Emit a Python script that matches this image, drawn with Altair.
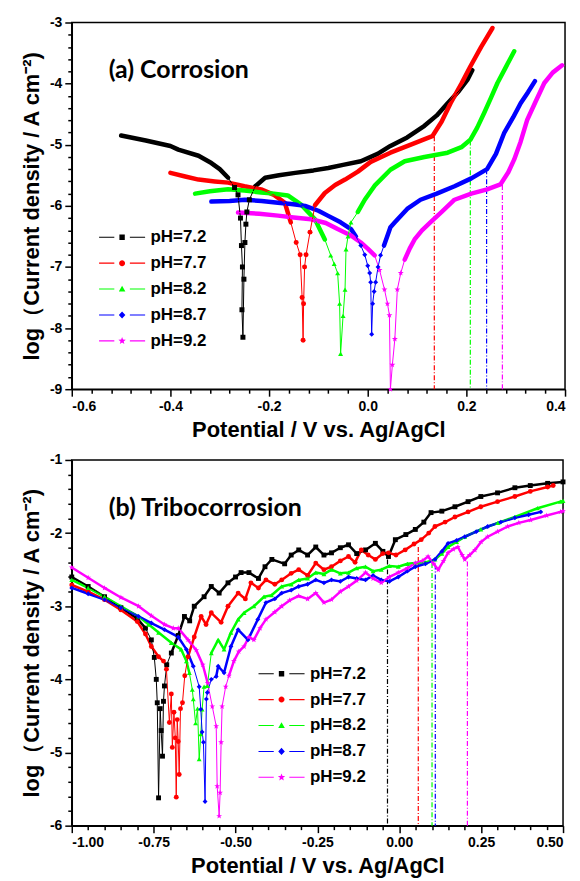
import math
import altair as alt
import pandas as pd

series = ["pH=7.2", "pH=7.7", "pH=8.2", "pH=8.7", "pH=9.2"]
colors = ["#000000", "#ff0000", "#00ff00", "#0000ff", "#ff00ff"]

# ---------------- (a) Corrosion : (potential V, log i) ----------------
top_72 = [(-0.50, -4.85), (-0.45, -4.93), (-0.40, -5.02), (-0.384, -5.08), (-0.343, -5.18), (-0.317, -5.30),
          (-0.30, -5.40), (-0.283, -5.54), (-0.27, -5.70), (-0.263, -5.82), (-0.258, -6.20), (-0.256, -6.65),
          (-0.254, -7.00), (-0.255, -7.70), (-0.253, -8.15), (-0.251, -7.20), (-0.249, -6.60), (-0.247, -6.30),
          (-0.245, -6.10), (-0.240, -5.90), (-0.228, -5.68), (-0.208, -5.54), (-0.18, -5.50), (-0.147, -5.46),
          (-0.11, -5.42), (-0.08, -5.38), (-0.05, -5.33), (-0.014, -5.27), (0.02, -5.15), (0.046, -5.02),
          (0.08, -4.88), (0.115, -4.69), (0.14, -4.52), (0.162, -4.32), (0.185, -4.12), (0.202, -3.94),
          (0.212, -3.78)]
top_77 = [(-0.40, -5.46), (-0.37, -5.52), (-0.343, -5.57), (-0.31, -5.60), (-0.283, -5.62), (-0.25, -5.68),
          (-0.216, -5.73), (-0.19, -5.82), (-0.168, -5.95), (-0.156, -6.27), (-0.145, -6.60), (-0.137, -6.80),
          (-0.133, -7.50), (-0.131, -8.20), (-0.130, -7.60), (-0.128, -7.00), (-0.125, -6.80), (-0.117, -6.43),
          (-0.107, -5.99), (-0.087, -5.79), (-0.066, -5.66), (-0.046, -5.57), (-0.02, -5.44), (0.006, -5.28),
          (0.046, -5.13), (0.09, -4.99), (0.131, -4.86), (0.15, -4.62), (0.168, -4.32), (0.19, -4.00),
          (0.208, -3.72), (0.23, -3.40), (0.253, -3.09)]
top_82 = [(-0.35, -5.80), (-0.32, -5.76), (-0.283, -5.73), (-0.25, -5.75), (-0.216, -5.78), (-0.19, -5.80),
          (-0.162, -5.83), (-0.135, -5.98), (-0.107, -6.22), (-0.087, -6.55), (-0.075, -6.81), (-0.068, -6.95),
          (-0.061, -7.10), (-0.057, -7.60), (-0.055, -8.42), (-0.050, -7.80), (-0.046, -7.37), (-0.044, -6.71),
          (-0.040, -6.50), (-0.034, -6.27), (-0.020, -6.10), (-0.006, -5.90), (0.014, -5.67), (0.046, -5.41),
          (0.075, -5.27), (0.115, -5.20), (0.162, -5.13), (0.19, -5.04), (0.208, -4.92), (0.222, -4.72),
          (0.236, -4.48), (0.25, -4.23), (0.263, -3.99), (0.28, -3.73), (0.297, -3.47)]
top_87 = [(-0.317, -5.93), (-0.28, -5.92), (-0.249, -5.90), (-0.215, -5.92), (-0.182, -5.95), (-0.155, -5.97),
          (-0.127, -6.00), (-0.10, -6.08), (-0.081, -6.16), (-0.055, -6.27), (-0.034, -6.38), (-0.024, -6.50),
          (-0.014, -6.65), (-0.006, -6.80), (0.000, -6.98), (0.004, -7.10), (0.006, -7.25), (0.008, -8.10),
          (0.010, -7.60), (0.013, -7.40), (0.016, -7.25), (0.021, -7.00), (0.026, -6.81), (0.033, -6.65),
          (0.040, -6.49), (0.046, -6.35), (0.055, -6.27), (0.08, -6.05), (0.107, -5.90), (0.14, -5.80),
          (0.176, -5.68), (0.21, -5.55), (0.242, -5.40), (0.26, -5.15), (0.277, -4.80), (0.295, -4.55),
          (0.31, -4.32), (0.325, -4.14), (0.339, -3.96)]
top_92 = [(-0.263, -6.11), (-0.22, -6.13), (-0.182, -6.16), (-0.15, -6.19), (-0.115, -6.22), (-0.085, -6.28),
          (-0.061, -6.38), (-0.035, -6.48), (-0.014, -6.60), (0.000, -6.70), (0.014, -6.81), (0.024, -7.05),
          (0.034, -7.37), (0.040, -7.60), (0.044, -7.79), (0.046, -9.00), (0.050, -8.60), (0.055, -8.18),
          (0.060, -7.37), (0.067, -7.10), (0.075, -6.88), (0.085, -6.70), (0.095, -6.55), (0.11, -6.40),
          (0.127, -6.27), (0.15, -6.10), (0.176, -5.90), (0.21, -5.80), (0.242, -5.73), (0.269, -5.65),
          (0.285, -5.45), (0.297, -5.24), (0.31, -4.95), (0.323, -4.60), (0.34, -4.30), (0.358, -3.99),
          (0.375, -3.82), (0.394, -3.70)]
top_pass_series = ["pH=7.7", "pH=8.2", "pH=8.7", "pH=9.2"]
top_pass_E = [0.135, 0.208, 0.241, 0.273]
top_pass_L = [-4.86, -4.93, -5.40, -5.66]

# ---------------- (b) Tribocorrosion ----------------
bot_72 = [(-1.00, -2.60), (-0.95, -2.73), (-0.90, -2.87), (-0.85, -3.02), (-0.80, -3.17), (-0.775, -3.30),
          (-0.757, -3.46), (-0.748, -3.70), (-0.742, -4.00), (-0.739, -4.32), (-0.735, -5.62), (-0.730, -4.40),
          (-0.727, -4.70), (-0.723, -5.05), (-0.720, -4.30), (-0.717, -4.09), (-0.710, -3.80), (-0.696, -3.64),
          (-0.675, -3.40), (-0.656, -3.14), (-0.640, -3.20), (-0.626, -3.00), (-0.596, -2.87), (-0.574, -2.73),
          (-0.550, -2.82), (-0.523, -2.68), (-0.500, -2.60), (-0.483, -2.54), (-0.459, -2.54), (-0.430, -2.62),
          (-0.410, -2.46), (-0.389, -2.36), (-0.350, -2.42), (-0.330, -2.30), (-0.307, -2.23), (-0.280, -2.30),
          (-0.255, -2.19), (-0.230, -2.30), (-0.207, -2.27), (-0.180, -2.20), (-0.155, -2.16), (-0.130, -2.28),
          (-0.103, -2.23), (-0.073, -2.14), (-0.050, -2.25), (-0.033, -2.32), (-0.012, -2.09), (0.020, -2.02),
          (0.049, -1.95), (0.075, -1.85), (0.097, -1.72), (0.130, -1.70), (0.170, -1.64), (0.210, -1.57),
          (0.249, -1.50), (0.300, -1.45), (0.353, -1.38), (0.400, -1.35), (0.453, -1.32), (0.500, -1.30)]
bot_77 = [(-1.00, -2.71), (-0.95, -2.80), (-0.90, -2.91), (-0.85, -3.05), (-0.80, -3.21), (-0.775, -3.38),
          (-0.757, -3.55), (-0.735, -3.69), (-0.720, -3.75), (-0.711, -3.86), (-0.702, -4.59), (-0.696, -4.20),
          (-0.693, -4.93), (-0.688, -4.45), (-0.684, -4.80), (-0.681, -5.61), (-0.678, -4.55), (-0.675, -4.85),
          (-0.672, -5.30), (-0.668, -4.40), (-0.662, -4.32), (-0.655, -3.95), (-0.645, -3.69), (-0.626, -3.42),
          (-0.605, -3.14), (-0.590, -3.25), (-0.574, -3.09), (-0.544, -3.22), (-0.523, -3.00), (-0.492, -2.82),
          (-0.470, -2.90), (-0.453, -2.68), (-0.430, -2.75), (-0.407, -2.64), (-0.380, -2.70), (-0.359, -2.64),
          (-0.330, -2.55), (-0.307, -2.50), (-0.280, -2.58), (-0.255, -2.41), (-0.230, -2.50), (-0.207, -2.46),
          (-0.180, -2.38), (-0.155, -2.32), (-0.135, -2.40), (-0.116, -2.23), (-0.095, -2.30), (-0.073, -2.36),
          (-0.050, -2.28), (-0.033, -2.27), (-0.010, -2.30), (0.018, -2.23), (0.045, -2.15), (0.067, -2.09),
          (0.090, -2.00), (0.109, -1.91), (0.140, -1.85), (0.170, -1.78), (0.210, -1.71), (0.249, -1.64),
          (0.300, -1.57), (0.353, -1.50), (0.400, -1.43), (0.453, -1.37), (0.470, -1.35)]
bot_82 = [(-1.00, -2.64), (-0.95, -2.75), (-0.90, -2.87), (-0.85, -3.00), (-0.796, -3.14), (-0.765, -3.25),
          (-0.735, -3.36), (-0.696, -3.50), (-0.666, -3.59), (-0.650, -3.75), (-0.641, -3.91), (-0.632, -4.14),
          (-0.629, -4.27), (-0.622, -4.60), (-0.616, -4.40), (-0.611, -5.09), (-0.606, -4.75), (-0.602, -4.41),
          (-0.596, -4.10), (-0.586, -4.09), (-0.574, -3.64), (-0.553, -3.46), (-0.535, -3.59), (-0.514, -3.36),
          (-0.492, -3.18), (-0.474, -3.09), (-0.444, -3.00), (-0.413, -2.87), (-0.390, -2.85), (-0.359, -2.73),
          (-0.330, -2.70), (-0.307, -2.64), (-0.280, -2.62), (-0.255, -2.54), (-0.230, -2.56), (-0.207, -2.50),
          (-0.180, -2.55), (-0.155, -2.54), (-0.130, -2.48), (-0.103, -2.46), (-0.080, -2.52), (-0.055, -2.50),
          (-0.030, -2.45), (-0.003, -2.46), (0.025, -2.42), (0.049, -2.41), (0.080, -2.40), (0.109, -2.36),
          (0.130, -2.28), (0.149, -2.19), (0.175, -2.12), (0.200, -2.05), (0.249, -1.95), (0.301, -1.86),
          (0.353, -1.78), (0.422, -1.66), (0.492, -1.57), (0.500, -1.56)]
bot_87 = [(-1.00, -2.75), (-0.95, -2.83), (-0.90, -2.91), (-0.85, -3.02), (-0.796, -3.14), (-0.757, -3.23),
          (-0.717, -3.32), (-0.675, -3.42), (-0.650, -3.59), (-0.629, -3.82), (-0.611, -4.10), (-0.606, -4.41),
          (-0.602, -4.72), (-0.598, -4.86), (-0.593, -5.67), (-0.589, -4.27), (-0.586, -4.18), (-0.574, -4.00),
          (-0.559, -3.96), (-0.553, -3.82), (-0.535, -3.91), (-0.514, -3.55), (-0.492, -3.32), (-0.462, -3.46),
          (-0.432, -3.18), (-0.407, -2.95), (-0.380, -2.90), (-0.359, -2.82), (-0.330, -2.78), (-0.307, -2.73),
          (-0.280, -2.70), (-0.255, -2.64), (-0.230, -2.68), (-0.207, -2.64), (-0.180, -2.66), (-0.155, -2.60),
          (-0.130, -2.62), (-0.103, -2.64), (-0.080, -2.58), (-0.055, -2.64), (-0.030, -2.66), (-0.003, -2.60),
          (0.025, -2.52), (0.049, -2.46), (0.080, -2.42), (0.109, -2.36), (0.130, -2.25), (0.149, -2.14),
          (0.175, -2.10), (0.200, -2.05), (0.235, -1.98), (0.270, -1.91), (0.310, -1.85), (0.353, -1.79),
          (0.395, -1.75), (0.432, -1.71)]
bot_92 = [(-1.00, -2.47), (-0.95, -2.61), (-0.90, -2.75), (-0.85, -2.88), (-0.796, -3.00), (-0.757, -3.13),
          (-0.717, -3.25), (-0.690, -3.30), (-0.675, -3.30), (-0.645, -3.46), (-0.620, -3.60), (-0.600, -3.80),
          (-0.585, -4.05), (-0.571, -4.37), (-0.559, -4.64), (-0.556, -5.46), (-0.550, -5.87), (-0.547, -5.55),
          (-0.544, -4.86), (-0.541, -4.37), (-0.530, -4.10), (-0.520, -3.95), (-0.505, -3.75), (-0.490, -3.62),
          (-0.474, -3.55), (-0.459, -3.42), (-0.444, -3.46), (-0.425, -3.30), (-0.407, -3.18), (-0.380, -3.08),
          (-0.359, -3.00), (-0.335, -2.92), (-0.307, -2.86), (-0.280, -2.90), (-0.255, -2.82), (-0.230, -2.95),
          (-0.207, -2.91), (-0.180, -2.80), (-0.155, -2.73), (-0.130, -2.65), (-0.103, -2.54), (-0.080, -2.62),
          (-0.055, -2.68), (-0.030, -2.60), (-0.003, -2.54), (0.025, -2.48), (0.049, -2.41), (0.070, -2.38),
          (0.088, -2.32), (0.105, -2.42), (0.119, -2.50), (0.135, -2.38), (0.149, -2.27), (0.165, -2.22),
          (0.179, -2.19), (0.192, -2.30), (0.200, -2.36), (0.215, -2.30), (0.231, -2.23), (0.250, -2.12),
          (0.270, -2.05), (0.300, -1.98), (0.331, -1.91), (0.365, -1.86), (0.401, -1.82), (0.450, -1.76),
          (0.492, -1.71), (0.500, -1.70)]
bot_pass_series = ["pH=7.2", "pH=7.7", "pH=8.2", "pH=8.7", "pH=9.2"]
bot_pass_E = [-0.036, 0.058, 0.100, 0.110, 0.208]
bot_pass_L = [-2.36, -2.19, -2.41, -2.43, -2.39]

top_x_ticks = [round(-0.6 + 0.04 * k, 2) for k in range(26)]
top_y_ticks = [round(-9 + 0.2 * k, 1) for k in range(31)]
bot_x_ticks = [round(-1.0 + 0.05 * k, 2) for k in range(31)]
bot_y_ticks = [round(-6 + 0.2 * k, 1) for k in range(26)]

# ---------------- styling helpers ----------------
def star_path(r1=1.25, r2=0.5):
    pts = []
    for k in range(10):
        a = -math.pi / 2 + k * math.pi / 5
        r = r1 if k % 2 == 0 else r2
        pts.append(f"{r * math.cos(a):.3f},{r * math.sin(a):.3f}")
    return "M" + "L".join(pts) + "Z"

STAR = star_path()
marker_shapes = ["square", "circle", "triangle-up", "diamond", STAR]
stub = "M-7.7,-0.18H-2.6V0.18H-7.7Z M2.6,-0.18H7.7V0.18H2.6Z "
legend_paths = [
    stub + "M-0.9,-0.9H0.9V0.9H-0.9Z",
    stub + "M-1,0A1,1,0,1,0,1,0A1,1,0,1,0,-1,0Z",
    stub + "M0,-1.1L1.1,0.8L-1.1,0.8Z",
    stub + "M0,-1.2L1.1,0L0,1.2L-1.1,0Z",
    stub + star_path(1.3, 0.55),
]


def build_frame(lists, window, tag):
    rows = []
    for name, pts in zip(series, lists):
        i_min = min(range(len(pts)), key=lambda k: pts[k][1])
        e_corr = pts[i_min][0]
        for k, (e, l) in enumerate(pts):
            rows.append(dict(pH=name, key=tag + name, i=k, E=e, L=l,
                             branch="c" if k <= i_min else "a",
                             dip=abs(e - e_corr) <= window))
    return pd.DataFrame(rows)


def panel(tag, lists, pass_s, pass_e, pass_l, xdom, ydom, xticks, yticks, xmul, xfmt,
          label, lx, ly, window, markers_everywhere, thick_w, msize):
    df = build_frame(lists, window, tag)
    rules = pd.DataFrame({"pH": pass_s, "E": pass_e, "L": pass_l})
    xtest = f"abs(datum.value*{xmul} - round(datum.value*{xmul})) < 0.001"
    ytest = "abs(datum.value - round(datum.value)) < 0.001"
    X = alt.X("E:Q", scale=alt.Scale(domain=xdom, nice=False, zero=False),
              axis=alt.Axis(values=xticks, title="Potential / V vs. Ag/AgCl",
                            labelExpr=f"{xtest} ? replace(format(datum.value, '{xfmt}'), '\u2212', '-') : ''",
                            tickSize={"condition": {"test": xtest, "value": 7}, "value": 4}))
    Y = alt.Y("L:Q", scale=alt.Scale(domain=ydom, nice=False, zero=False),
              axis=alt.Axis(values=yticks, title="log\uff08Current density / A cm\u207b\u00b2)",
                            labelExpr=f"{ytest} ? replace(format(datum.value, 'd'), '\u2212', '-') : ''",
                            tickSize={"condition": {"test": ytest, "value": 7}, "value": 4}))
    # colour of data marks: explicit domain = plain series names
    C = alt.Color("pH:N", scale=alt.Scale(domain=series, range=colors), legend=None)
    # legend keys: panel-tagged names so the legend never merges with the colour scale
    # or with the other panel's legend
    keys = [tag + s for s in series]
    base = alt.Chart(df)

    layers = []
    layers.append(alt.Chart(rules).mark_rule(strokeDash=[5, 2, 1, 2], strokeWidth=1.2)
                  .encode(x=X, y=Y, y2=alt.datum(ydom[0]), color=C))
    layers.append(base.transform_filter("!datum.dip").mark_line(strokeWidth=thick_w, strokeCap="round", strokeJoin="round")
                  .encode(x=X, y=Y, color=C, detail="branch:N", order="i:Q"))
    layers.append(base.mark_line(strokeWidth=1).encode(x=X, y=Y, color=C, order="i:Q"))
    for s, sh in zip(series, marker_shapes):
        src = base.transform_filter(alt.datum.pH == s)
        if not markers_everywhere:
            src = src.transform_filter("datum.dip")
        layers.append(src.mark_point(shape=sh, filled=True, size=msize, opacity=1)
                      .encode(x=X, y=Y, color=C))
    leg = alt.Legend(orient="none", legendX=lx, legendY=ly, title=None,
                     labelExpr=f"slice(datum.label, {len(tag)})",
                     labelFont="Liberation Sans", labelFontWeight="bold", labelFontSize=17,
                     labelColor="black", symbolSize=36, symbolStrokeWidth=0, symbolOpacity=1,
                     labelOffset=20, rowPadding=8, padding=0)
    layers.append(base.transform_filter("datum.E > 99").mark_point(filled=True, opacity=1)
                  .encode(x=X, y=Y,
                          fill=alt.Fill("key:N", scale=alt.Scale(domain=keys, range=colors), legend=leg),
                          shape=alt.Shape("key:N", scale=alt.Scale(domain=keys, range=legend_paths), legend=leg)))
    layers.append(alt.Chart(pd.DataFrame({"t": [label]}))
                  .mark_text(align="left", baseline="middle", font="Lato", fontSize=25, fontWeight="bold", color="black")
                  .encode(text="t:N", x=alt.value(37), y=alt.value(48)))
    return alt.layer(*layers)


top = panel("a:", [top_72, top_77, top_82, top_87, top_92], top_pass_series, top_pass_E, top_pass_L,
            [-0.6, 0.4], [-9, -3], top_x_ticks, top_y_ticks, 5, ".1f",
            "(a) Corrosion", 42, 207, 0.022, False, 4.5, 25).properties(width=495, height=368)
bottom = panel("b:", [bot_72, bot_77, bot_82, bot_87, bot_92], bot_pass_series, bot_pass_E, bot_pass_L,
               [-1.0, 0.5], [-6, -1], bot_x_ticks, bot_y_ticks, 4, ".2f",
               "(b) Tribocorrosion", 202, 206, 0.03, True, 2.5, 24).properties(width=493, height=367)

chart = (alt.vconcat(top, bottom, spacing=11, padding={"left": 11, "top": 5, "right": 5, "bottom": 5})
         .resolve_scale(color="independent", shape="independent", fill="independent")
         .configure(font="Liberation Sans")
         .configure_view(stroke="black", strokeWidth=1.5)
         .configure_axis(grid=False, labelFont="Liberation Sans", labelFontWeight="bold", labelFontSize=14,
                         labelColor="black", labelPadding=3, titleFont="Liberation Sans", titleFontWeight="bold",
                         titleFontSize=22, titleColor="black", titlePadding=6, domainColor="black",
                         domainWidth=1.5, tickColor="black", tickWidth=1.5))

chart.save("out.html", embed_options={"renderer": "svg", "actions": False})
